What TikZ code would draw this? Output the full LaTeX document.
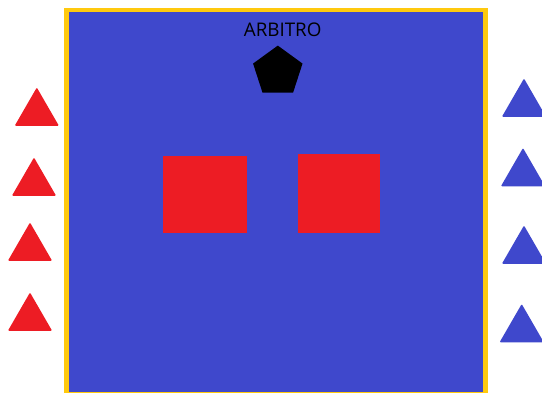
\documentclass[tikz,border=0pt]{standalone}
\usepackage{fontspec}
\setsansfont{Open Sans}
\usetikzlibrary{shapes.geometric}

\definecolor{campo}{HTML}{3F48CC}
\definecolor{rojo}{HTML}{ED1C24}
\definecolor{amarillo}{HTML}{FFC90E}

\begin{document}
\begin{tikzpicture}[
    x=1pt,y=-1pt,
    jugador/.style={regular polygon,regular polygon sides=3,minimum size=51pt,
      inner sep=0pt,outer sep=0pt,draw=none,rounded corners=1pt},
    rojos/.style={jugador,fill=rojo},
    azules/.style={jugador,fill=campo},
    caja/.style={rectangle,fill=rojo,draw=none,inner sep=0pt,outer sep=0pt},
    etiqueta/.style={font=\sffamily\fontsize{18.8}{20}\selectfont,text=black,
      inner sep=0pt,anchor=base}
  ]
    \clip (0,0) rectangle (542,392);
    % campo
    \filldraw[fill=campo,draw=amarillo,line width=4.6pt] (66.3,10) rectangle (485.7,394.5);
    % arbitro
    \node[etiqueta] (titulo) at (282.7,36.7) {ARBITRO};
    \node[regular polygon,regular polygon sides=5,minimum size=52pt,
      inner sep=0pt,fill=black] (arbitro) at (277.8,71.6) {};
    % porterias
    \node[caja,minimum width=84pt,minimum height=77.3pt] (izq) at (205,194.3) {};
    \node[caja,minimum width=82pt,minimum height=79.3pt] (der) at (339,193.3) {};
    % equipo rojo
    \node[rojos] (r1) at (36.8,113) {};
    \node[rojos] (r2) at (34,183) {};
    \node[rojos] (r3) at (30,248) {};
    \node[rojos] (r4) at (30,318) {};
    % equipo azul
    \node[azules] (a1) at (524,104) {};
    \node[azules] (a2) at (523,173.5) {};
    \node[azules] (a3) at (524,251) {};
    \node[azules] (a4) at (521.7,329.5) {};
\end{tikzpicture}
\end{document}
